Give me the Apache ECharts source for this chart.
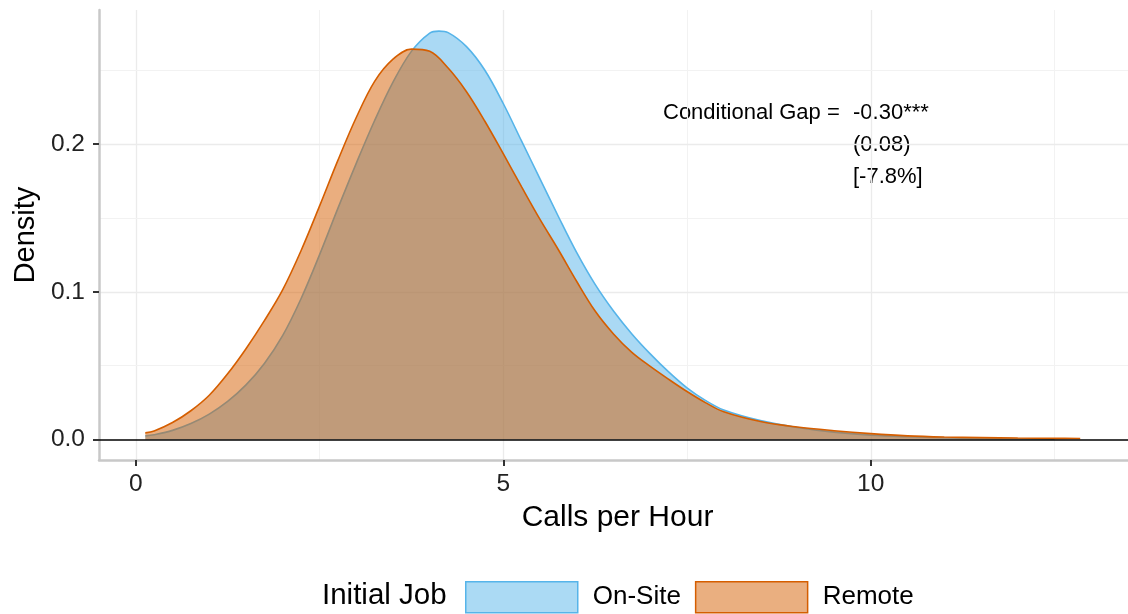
<!DOCTYPE html>
<html>
<head>
<meta charset="utf-8">
<script src="https://cdn.jsdelivr.net/npm/echarts@6/dist/echarts.min.js"></script>
<style>
html,body{margin:0;padding:0;background:#fff;}
#chart{width:1128px;height:614px;}
</style>
</head>
<body>
<div id="chart"></div>
<script>
// ---- Data ----
const seriesNames = ['On-Site', 'Remote'];
const onSiteDensity = [
  [0.13, 0.0025], [0.25, 0.0033], [0.5, 0.0062], [0.75, 0.0108], [1.0, 0.0172],
  [1.25, 0.0258], [1.5, 0.0370], [1.75, 0.0515], [2.0, 0.0705], [2.25, 0.0955],
  [2.5, 0.1250], [2.75, 0.1565], [3.0, 0.1870], [3.25, 0.2160], [3.5, 0.2420],
  [3.75, 0.2628], [4.0, 0.2752], [4.125, 0.2765], [4.25, 0.2755], [4.5, 0.2660],
  [4.75, 0.2500], [5.0, 0.2275], [5.25, 0.2020], [5.5, 0.1765], [5.75, 0.1510],
  [6.0, 0.1265], [6.25, 0.1050], [6.5, 0.0870], [6.75, 0.0715], [7.0, 0.0580],
  [7.25, 0.0458], [7.5, 0.0350], [7.75, 0.0265], [8.0, 0.0200], [8.5, 0.0128],
  [9.0, 0.0082], [9.5, 0.0050], [10.0, 0.0030], [10.5, 0.0019], [11.0, 0.0012],
  [11.5, 0.0008], [12.0, 0.0005], [12.5, 0.0003]
];
const remoteDensity = [
  [0.13, 0.0045], [0.25, 0.0058], [0.5, 0.0115], [0.75, 0.0195], [1.0, 0.0300],
  [1.25, 0.0445], [1.5, 0.0615], [1.75, 0.0805], [2.0, 0.1015], [2.25, 0.1280],
  [2.5, 0.1580], [2.75, 0.1890], [3.0, 0.2180], [3.25, 0.2425], [3.5, 0.2575],
  [3.75, 0.2643], [4.0, 0.2628], [4.25, 0.2515], [4.5, 0.2355], [4.75, 0.2155],
  [5.0, 0.1935], [5.25, 0.1710], [5.5, 0.1490], [5.75, 0.1285], [6.0, 0.1070],
  [6.25, 0.0870], [6.5, 0.0715], [6.75, 0.0590], [7.0, 0.0495], [7.25, 0.0408],
  [7.5, 0.0325], [7.75, 0.0250], [8.0, 0.0188], [8.5, 0.0122], [9.0, 0.0085],
  [9.5, 0.0060], [10.0, 0.0040], [10.5, 0.0025], [11.0, 0.0017], [11.5, 0.0013],
  [12.0, 0.0010], [12.5, 0.0008], [12.85, 0.0007]
];
const xTickValues = [0, 5, 10];
const yTickValues = [0, 0.1, 0.2];
const xGridMajor = [0, 5, 10];
const xGridMinor = [2.5, 7.5, 12.5];
const yGridMajor = [0.1, 0.2];
const yGridMinor = [0.05, 0.15, 0.25];
const annotationLabel = 'Conditional Gap =';
const annotationLines = ['-0.30***', '(0.08)', '[-7.8%]'];

// ---- Styling ----
const FONT = 'Liberation Sans, Arial, Helvetica, sans-serif';
const blue = '#56B4E9', orange = '#D55E00';

const chart = echarts.init(document.getElementById('chart'), null, {renderer: 'canvas'});

const gridLines = [];
xGridMajor.forEach(v => gridLines.push({xAxis: v, lineStyle: {color: '#EBEBEB', width: 1.3, type: 'solid'}}));
xGridMinor.forEach(v => gridLines.push({xAxis: v, lineStyle: {color: '#F2F2F2', width: 1.1, type: 'solid'}}));
yGridMajor.forEach(v => gridLines.push({yAxis: v, lineStyle: {color: '#EBEBEB', width: 1.3, type: 'solid'}}));
yGridMinor.forEach(v => gridLines.push({yAxis: v, lineStyle: {color: '#F2F2F2', width: 1.1, type: 'solid'}}));

const option = {
  animation: false,
  backgroundColor: '#fff',
  textStyle: {fontFamily: FONT},
  grid: {left: 99, right: 0, top: 10, bottom: 154, containLabel: false},
  xAxis: {
    type: 'value', min: -0.5, max: 13.5,
    name: 'Calls per Hour', nameLocation: 'middle', nameGap: 43,
    nameTextStyle: {fontSize: 30, color: '#000', fontFamily: FONT, padding: [0, 0, 0, 8]},
    axisLine: {show: true, onZero: false, lineStyle: {color: '#C8C8C8', width: 2.5}},
    axisTick: {show: true, customValues: xTickValues, length: 6, lineStyle: {color: '#333', width: 2}},
    axisLabel: {customValues: xTickValues, fontSize: 24.5, color: '#222', margin: 12, fontFamily: FONT},
    splitLine: {show: false}
  },
  yAxis: {
    type: 'value', min: -0.01385, max: 0.2908,
    name: 'Density', nameLocation: 'middle', nameGap: 58, nameRotate: 90,
    nameTextStyle: {fontSize: 29, color: '#000', fontFamily: FONT},
    axisLine: {show: true, onZero: false, lineStyle: {color: '#C8C8C8', width: 2.5}},
    axisTick: {show: true, customValues: yTickValues, length: 6, lineStyle: {color: '#333', width: 2}},
    axisLabel: {customValues: yTickValues, fontSize: 24.5, color: '#222', margin: 14, fontFamily: FONT,
      formatter: v => Number(v).toFixed(1)},
    splitLine: {show: false}
  },
  legend: {
    left: 465, top: 581, padding: 0,
    itemWidth: 112, itemHeight: 31, itemGap: 14,
    icon: 'rect',
    textStyle: {fontSize: 26, color: '#000', fontFamily: FONT, padding: [0, 0, 0, 10]},
    data: [
      {name: seriesNames[0], itemStyle: {color: '#ABDAF4', borderColor: blue, borderWidth: 1.5}},
      {name: seriesNames[1], itemStyle: {color: '#EAAF80', borderColor: orange, borderWidth: 1.5}}
    ]
  },
  graphic: [
    {type: 'text', left: 322, top: 581, style: {text: 'Initial Job', fontSize: 29.5, fill: '#000', fontFamily: FONT}},
    {type: 'text', x: 663, y: 113, style: {text: annotationLabel, fontSize: 22, fill: '#000', fontFamily: FONT, textVerticalAlign: 'middle'}},
    {type: 'text', x: 853, y: 113, style: {text: annotationLines[0], fontSize: 22, fill: '#000', fontFamily: FONT, textVerticalAlign: 'middle'}},
    {type: 'text', x: 853, y: 145, style: {text: annotationLines[1], fontSize: 22, fill: '#000', fontFamily: FONT, textVerticalAlign: 'middle'}},
    {type: 'text', x: 853, y: 177, style: {text: annotationLines[2], fontSize: 22, fill: '#000', fontFamily: FONT, textVerticalAlign: 'middle'}}
  ],
  series: [
    {
      name: '_grid', type: 'line', data: [], z: 0, silent: true,
      markLine: {z: 0, silent: true, symbol: ['none', 'none'], label: {show: false}, animation: false, data: gridLines}
    },
    {
      name: seriesNames[0], type: 'line', data: onSiteDensity, smooth: 0.35, showSymbol: false, z: 2,
      lineStyle: {color: blue, width: 1.6},
      itemStyle: {color: blue},
      areaStyle: {color: blue, opacity: 0.5, origin: 0}
    },
    {
      name: seriesNames[1], type: 'line', data: remoteDensity, smooth: 0.35, showSymbol: false, z: 3,
      lineStyle: {color: orange, width: 1.6},
      itemStyle: {color: orange},
      areaStyle: {color: orange, opacity: 0.5, origin: 0}
    },
    {
      name: '_hline', type: 'line', data: [], z: 10, silent: true,
      markLine: {z: 10, silent: true, symbol: ['none', 'none'], label: {show: false}, animation: false,
        data: [{yAxis: 0, lineStyle: {color: '#000', width: 1.6, type: 'solid'}}]}
    }
  ]
};
chart.setOption(option);
</script>
</body>
</html>
